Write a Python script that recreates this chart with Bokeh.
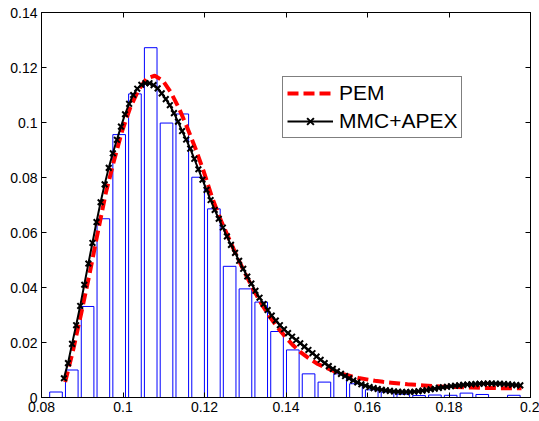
from bokeh.plotting import figure
from bokeh.models import Range1d, LinearAxis, FixedTicker, Legend, LegendItem
from bokeh.embed import file_html
from bokeh.resources import INLINE

# ---- data ----
bin_centers = [0.08356, 0.08743, 0.09131, 0.09518, 0.09906, 0.10293, 0.10680, 0.11068, 0.11455, 0.11843,
               0.12230, 0.12617, 0.13005, 0.13392, 0.13780, 0.14167, 0.14554, 0.14942, 0.15329, 0.15717,
               0.16104, 0.16491, 0.16879, 0.17266, 0.17654, 0.18041, 0.18428, 0.18816, 0.19203, 0.19591]
bin_heights = [0.0020, 0.0100, 0.0331, 0.0650, 0.0956, 0.1104, 0.1272, 0.0998, 0.1031, 0.0801,
               0.0686, 0.0477, 0.0395, 0.0347, 0.0240, 0.0173, 0.0086, 0.0056, 0.0086, 0.0050,
               0.0028, 0.0020, 0.0012, 0.0007, 0.0009, 0.0008, 0.0016, 0.0011, 0.0000, 0.0008]

pem_x = [0.0858, 0.0878, 0.0898, 0.0918, 0.0938, 0.0958, 0.0978, 0.0998, 0.1018, 0.1038,
         0.1058, 0.1078, 0.1098, 0.1118, 0.1138, 0.1158, 0.1178, 0.1198, 0.1218, 0.1238,
         0.1258, 0.1278, 0.1298, 0.1318, 0.1338, 0.1358, 0.1378, 0.1398, 0.1418, 0.1438,
         0.1458, 0.1478, 0.1498, 0.1518, 0.1538, 0.1558, 0.1578, 0.1598, 0.1618, 0.1638,
         0.1658, 0.1678, 0.1698, 0.1718, 0.1738, 0.1758, 0.1778, 0.1798, 0.1818, 0.1838,
         0.1858, 0.1878, 0.1898, 0.1918, 0.1938, 0.1958, 0.1978]
pem_y = [0.0056, 0.0175, 0.0310, 0.0450, 0.0600, 0.0745, 0.0862, 0.0970, 0.1055, 0.1118,
         0.1160, 0.1170, 0.1152, 0.1108, 0.1050, 0.0980, 0.0905, 0.0822, 0.0730, 0.0652,
         0.0584, 0.0518, 0.0456, 0.0398, 0.0345, 0.0298, 0.0257, 0.0221, 0.0189, 0.0162,
         0.0140, 0.0122, 0.0108, 0.0096, 0.0086, 0.0078, 0.0071, 0.0066, 0.0061, 0.0057,
         0.0054, 0.0051, 0.0048, 0.0046, 0.0044, 0.0042, 0.0040, 0.0039, 0.0038, 0.0037,
         0.0036, 0.0035, 0.0035, 0.0034, 0.0034, 0.0034, 0.0034]

mmc_x = [0.0855, 0.0865, 0.0875, 0.0885, 0.0895, 0.0905, 0.0915, 0.0925, 0.0935, 0.0945,
         0.0955, 0.0965, 0.0975, 0.0985, 0.0995, 0.1005, 0.1015, 0.1025, 0.1035, 0.1045,
         0.1055, 0.1065, 0.1075, 0.1085, 0.1095, 0.1105, 0.1115, 0.1125, 0.1135, 0.1145,
         0.1155, 0.1165, 0.1175, 0.1185, 0.1195, 0.1205, 0.1215, 0.1225, 0.1235, 0.1245,
         0.1255, 0.1265, 0.1275, 0.1285, 0.1295, 0.1305, 0.1315, 0.1325, 0.1335, 0.1345,
         0.1355, 0.1365, 0.1375, 0.1385, 0.1395, 0.1405, 0.1415, 0.1425, 0.1435, 0.1445,
         0.1455, 0.1465, 0.1475, 0.1485, 0.1495, 0.1505, 0.1515, 0.1525, 0.1535, 0.1545,
         0.1555, 0.1565, 0.1575, 0.1585, 0.1595, 0.1605, 0.1615, 0.1625, 0.1635, 0.1645,
         0.1655, 0.1665, 0.1675, 0.1685, 0.1695, 0.1705, 0.1715, 0.1725, 0.1735, 0.1745,
         0.1755, 0.1765, 0.1775, 0.1785, 0.1795, 0.1805, 0.1815, 0.1825, 0.1835, 0.1845,
         0.1855, 0.1865, 0.1875, 0.1885, 0.1895, 0.1905, 0.1915, 0.1925, 0.1935, 0.1945,
         0.1955, 0.1965, 0.1975]
mmc_y = [0.0070, 0.0125, 0.0195, 0.0263, 0.0333, 0.0410, 0.0487, 0.0562, 0.0638, 0.0710,
         0.0775, 0.0835, 0.0888, 0.0937, 0.0985, 0.1030, 0.1068, 0.1100, 0.1123, 0.1137,
         0.1143, 0.1143, 0.1136, 0.1124, 0.1106, 0.1085, 0.1063, 0.1034, 0.1003, 0.0969,
         0.0938, 0.0905, 0.0868, 0.0830, 0.0792, 0.0755, 0.0718, 0.0682, 0.0650, 0.0618,
         0.0586, 0.0555, 0.0526, 0.0497, 0.0468, 0.0440, 0.0414, 0.0388, 0.0363, 0.0340,
         0.0318, 0.0298, 0.0280, 0.0263, 0.0248, 0.0234, 0.0221, 0.0209, 0.0197, 0.0185,
         0.0173, 0.0161, 0.0149, 0.0137, 0.0125, 0.0114, 0.0104, 0.0095, 0.0086, 0.0078,
         0.0070, 0.0062, 0.0055, 0.0048, 0.0043, 0.0038, 0.0034, 0.0031, 0.0028, 0.0026,
         0.0024, 0.0022, 0.0021, 0.0020, 0.0020, 0.0020, 0.0021, 0.0023, 0.0025, 0.0027,
         0.0030, 0.0032, 0.0035, 0.0037, 0.0039, 0.0041, 0.0043, 0.0044, 0.0046, 0.0047,
         0.0048, 0.0049, 0.0050, 0.0050, 0.0051, 0.0051, 0.0050, 0.0050, 0.0049, 0.0048,
         0.0046, 0.0045, 0.0044]

x_ticks = [0.08, 0.1, 0.12, 0.14, 0.16, 0.18, 0.2]
x_tick_labels = ["0.08", "0.1", "0.12", "0.14", "0.16", "0.18", "0.2"]
y_ticks = [0, 0.02, 0.04, 0.06, 0.08, 0.1, 0.12, 0.14]
y_tick_labels = ["0", "0.02", "0.04", "0.06", "0.08", "0.1", "0.12", "0.14"]
series_names = ["PEM", "MMC+APEX"]

FONT = "Liberation Sans"

p = figure(frame_width=489, frame_height=385, x_range=Range1d(0.08, 0.2), y_range=Range1d(0, 0.14),
           output_backend="svg", toolbar_location=None,
           min_border_left=41, min_border_right=9, min_border_top=12, min_border_bottom=24)
p.grid.visible = False
p.outline_line_color = "black"
p.outline_line_width = 1
p.background_fill_color = "white"
p.border_fill_color = "white"

def style_axis(ax, ticks, labels, show_labels=True):
    ax.ticker = FixedTicker(ticks=ticks)
    ax.major_tick_in = 5
    ax.major_tick_out = 0
    ax.minor_tick_in = 0
    ax.minor_tick_out = 0
    ax.axis_line_color = "black"
    ax.axis_line_width = 1
    ax.major_tick_line_color = "black"
    ax.major_tick_line_width = 1
    if show_labels:
        ax.major_label_overrides = dict(zip(ticks, labels))
        ax.major_label_text_font = FONT
        ax.major_label_text_font_size = "14px"
        ax.major_label_text_color = "black"
    else:
        ax.major_label_text_font_size = "1px"
        ax.major_label_text_color = None
        ax.major_label_standoff = 0

style_axis(p.xaxis[0], x_ticks, x_tick_labels)
p.xaxis[0].major_label_standoff = 4
style_axis(p.yaxis[0], y_ticks, y_tick_labels)
p.yaxis[0].major_label_standoff = 4

top_ax = LinearAxis()
style_axis(top_ax, x_ticks, x_tick_labels, show_labels=False)
p.add_layout(top_ax, "above")
right_ax = LinearAxis()
style_axis(right_ax, y_ticks, y_tick_labels, show_labels=False)
p.add_layout(right_ax, "right")

# histogram
p.vbar(x=bin_centers, top=bin_heights, bottom=0, width=0.0031,
       fill_color=None, line_color="#0000ff", line_width=1)

r_pem = p.line(pem_x, pem_y, line_color="#ff0000", line_width=4, line_dash="11 5")
r_mmc_line = p.line(mmc_x, mmc_y, line_color="black", line_width=2)
r_mmc_mark = p.scatter(mmc_x, mmc_y, marker="x", size=8, line_color="black", line_width=2)

legend = Legend(items=[LegendItem(label=series_names[0], renderers=[r_pem]),
                       LegendItem(label=series_names[1], renderers=[r_mmc_line, r_mmc_mark])],
                location=(241, 259))
legend.label_text_font = FONT
legend.label_text_font_size = "21px"
legend.label_text_color = "black"
legend.glyph_width = 46
legend.glyph_height = 24
legend.label_height = 24
legend.label_standoff = 6
legend.padding = 4
legend.spacing = 4
legend.margin = 0
legend.border_line_color = "black"
legend.border_line_width = 1
legend.background_fill_color = "white"
legend.background_fill_alpha = 1
p.add_layout(legend)

open("out.html", "w").write(file_html(p, INLINE))
